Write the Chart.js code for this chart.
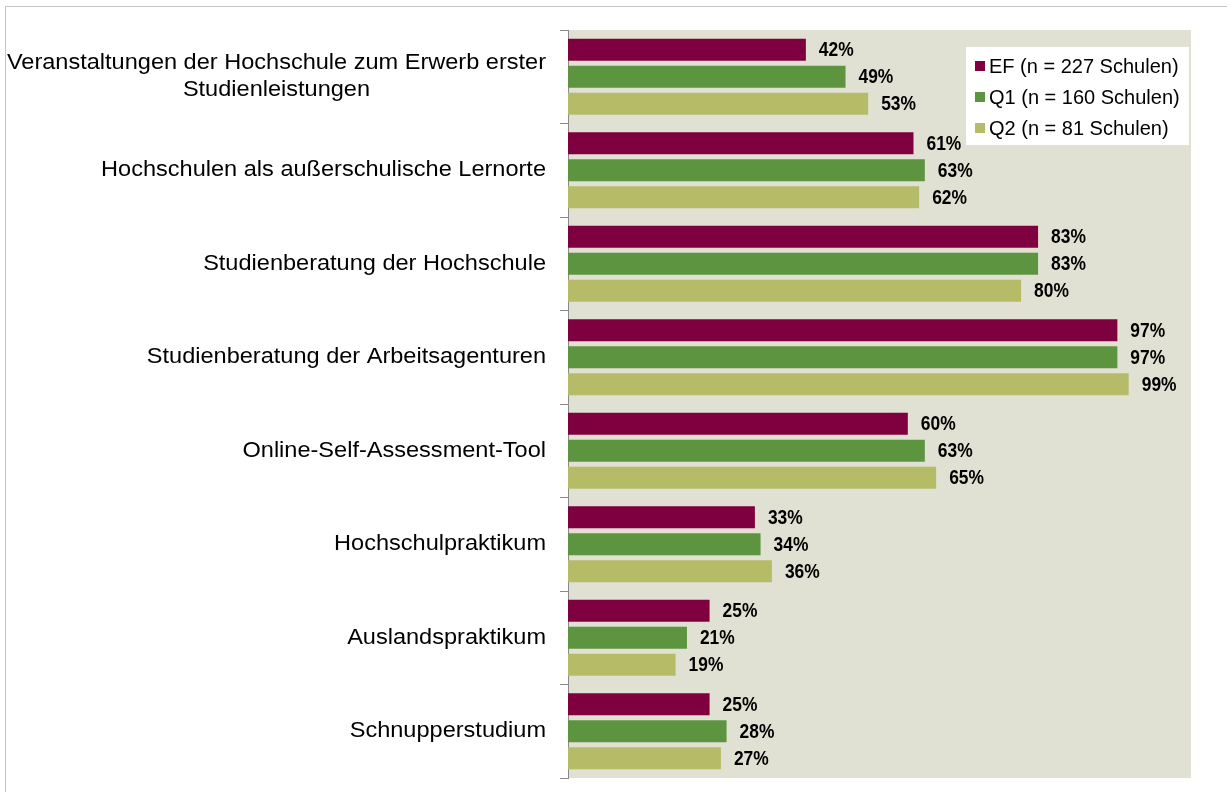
<!DOCTYPE html>
<html>
<head>
<meta charset="utf-8">
<script src="https://cdn.jsdelivr.net/npm/chart.js@4/dist/chart.umd.min.js"></script>
<style>
  html, body { margin: 0; padding: 0; background: #fff; }
  #wrap { position: relative; width: 1227px; height: 792px; overflow: hidden; }
  #frame { position: absolute; left: 5px; top: 6px; width: 1300px; height: 900px;
           border-left: 1px solid #c4c4c4; border-top: 1px solid #c4c4c4; }
  canvas { position: absolute; left: 0; top: 0; }
</style>
</head>
<body>
<div id="wrap">
  <div id="frame"></div>
  <canvas id="chart" width="1227" height="792"></canvas>
</div>
<script>
// Kategorien (Zeilen), mehrzeilige Beschriftung als Array
const CATEGORIES = [
    ['Veranstaltungen der Hochschule zum Erwerb erster', 'Studienleistungen'],
    'Hochschulen als außerschulische Lernorte',
    'Studienberatung der Hochschule',
    'Studienberatung der Arbeitsagenturen',
    'Online-Self-Assessment-Tool',
    'Hochschulpraktikum',
    'Auslandspraktikum',
    'Schnupperstudium',
];

const SERIES_NAMES = ['EF (n = 227 Schulen)', 'Q1 (n = 160 Schulen)', 'Q2 (n = 81 Schulen)'];
const SERIES_COLORS = ['#7f003f', '#5c943f', '#b6bb68'];

// Anteile in Prozent
const EF_VALUES = [42, 61, 83, 97, 60, 33, 25, 25];
const Q1_VALUES = [49, 63, 83, 97, 63, 34, 21, 28];
const Q2_VALUES = [53, 62, 80, 99, 65, 36, 19, 27];

const X_MAX = 110;

const FONT = '"Liberation Sans", Arial, sans-serif';

// Hintergrund der Zeichenfläche
const plotBackground = {
    id: 'plotBackground',
    beforeDraw(chart) {
        const { ctx, chartArea: a } = chart;
        ctx.save();
        ctx.fillStyle = '#e1e1d3';
        ctx.fillRect(a.left, a.top, a.right - a.left, a.bottom - a.top);
        ctx.restore();
    },
};

// Kategorienamen: einzeilig rechtsbündig, mehrzeilig zentriert (leicht breit gezogen)
const categoryLabels = {
    id: 'categoryLabels',
    afterDraw(chart) {
        const { ctx } = chart;
        const yScale = chart.scales.y;
        const right = 546;
        const lineH = 27;
        const sx = 1.07;
        ctx.save();
        ctx.font = '22px ' + FONT;
        ctx.fillStyle = '#000';
        ctx.textAlign = 'center';
        ctx.textBaseline = 'middle';
        CATEGORIES.forEach((label, i) => {
            const lines = Array.isArray(label) ? label : [label];
            const maxW = Math.max(...lines.map(l => ctx.measureText(l).width)) * sx;
            const cx = right - maxW / 2;
            const y0 = yScale.getPixelForValue(i) - (lines.length - 1) * lineH / 2;
            lines.forEach((l, k) => {
                ctx.save();
                ctx.translate(cx, y0 + k * lineH);
                ctx.scale(sx, 1);
                ctx.fillText(l, 0, 0);
                ctx.restore();
            });
        });
        ctx.restore();
    },
};

// Prozentwerte rechts neben den Balken (leicht schmal gezogen)
const valueLabels = {
    id: 'valueLabels',
    afterDatasetsDraw(chart) {
        const { ctx } = chart;
        const sx = 0.87;
        ctx.save();
        ctx.font = 'bold 20px ' + FONT;
        ctx.fillStyle = '#000';
        ctx.textAlign = 'left';
        ctx.textBaseline = 'middle';
        chart.data.datasets.forEach((ds, di) => {
            chart.getDatasetMeta(di).data.forEach((bar, i) => {
                ctx.save();
                ctx.translate(bar.x + 13, bar.y + 1);
                ctx.scale(sx, 1);
                ctx.fillText(ds.data[i] + '%', 0, 0);
                ctx.restore();
            });
        });
        ctx.restore();
    },
};

// Legende im Diagramm oben rechts
const boxLegend = {
    id: 'boxLegend',
    afterDraw(chart) {
        const { ctx } = chart;
        const x = 966, y = 47, w = 223, h = 98;
        ctx.save();
        ctx.fillStyle = '#fff';
        ctx.fillRect(x, y, w, h);
        ctx.font = '20px ' + FONT;
        ctx.textBaseline = 'middle';
        SERIES_NAMES.forEach((name, i) => {
            const cy = y + 19 + i * 31;
            ctx.fillStyle = SERIES_COLORS[i];
            ctx.fillRect(x + 9, cy - 5, 10, 10);
            ctx.fillStyle = '#000';
            ctx.fillText(name, x + 23, cy + 1);
        });
        ctx.restore();
    },
};

const seriesValues = [EF_VALUES, Q1_VALUES, Q2_VALUES];

new Chart(document.getElementById('chart'), {
    type: 'bar',
    data: {
        labels: CATEGORIES,
        datasets: SERIES_NAMES.map((name, i) => ({
            label: name,
            data: seriesValues[i],
            backgroundColor: SERIES_COLORS[i],
            borderWidth: 0,
            categoryPercentage: 0.869,
            barPercentage: 0.815,
        })),
    },
    options: {
        indexAxis: 'y',
        responsive: false,
        animation: false,
        layout: { padding: { left: 0, top: 30, right: 36, bottom: 14 } },
        plugins: {
            legend: { display: false },
            title: { display: false },
            tooltip: { enabled: false },
        },
        scales: {
            x: {
                display: false,
                min: 0,
                max: X_MAX,
            },
            y: {
                grid: {
                    drawOnChartArea: false,
                    drawTicks: true,
                    tickLength: 8,
                    color: '#8a8a8a',
                    offset: true,
                },
                border: { display: true, color: '#8a8a8a', width: 1 },
                ticks: { display: false },
                afterFit(scale) { scale.width = 568; },
            },
        },
    },
    plugins: [plotBackground, categoryLabels, valueLabels, boxLegend],
});
</script>
</body>
</html>
